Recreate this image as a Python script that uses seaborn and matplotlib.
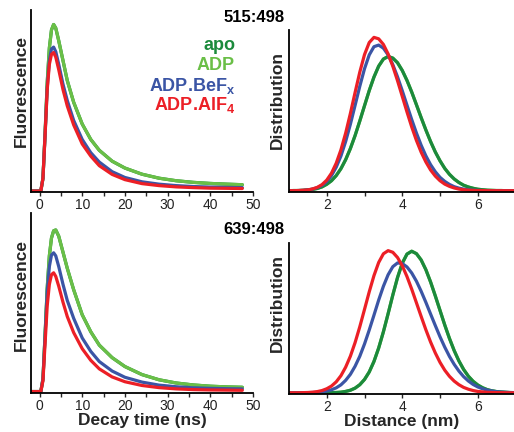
import numpy as np
import pandas as pd
import matplotlib
matplotlib.use("Agg")
import matplotlib.pyplot as plt
import seaborn as sns

# decay time axis (ns) and fluorescence readings
decay_t = [-2, 0.3, 0.8, 1.3, 1.8, 2.3, 2.8, 3.3, 3.8, 4.5, 5.5, 6.5, 8, 10,
           12, 14, 17, 20, 24, 28, 32, 36, 40, 44, 47.5]

adp_decay_515 = [0, 0, 0.07, 0.32, 0.60, 0.79, 0.89, 0.92, 0.90, 0.83, 0.72, 0.61, 0.49,
                 0.37, 0.285, 0.225, 0.165, 0.127, 0.093, 0.071, 0.057, 0.048, 0.042, 0.038, 0.035]
apo_decay_515 = adp_decay_515
bef_decay_515 = [0, 0, 0.07, 0.31, 0.57, 0.72, 0.785, 0.795, 0.77, 0.70, 0.59, 0.50, 0.39,
                 0.285, 0.212, 0.16, 0.107, 0.075, 0.051, 0.038, 0.030, 0.025, 0.022, 0.020, 0.019]
alf_decay_515 = [0, 0, 0.07, 0.31, 0.56, 0.70, 0.755, 0.765, 0.74, 0.67, 0.56, 0.47, 0.365,
                 0.26, 0.193, 0.14, 0.092, 0.063, 0.041, 0.030, 0.023, 0.019, 0.016, 0.015, 0.014]

adp_decay_639 = [0, 0, 0.07, 0.32, 0.58, 0.76, 0.86, 0.90, 0.905, 0.87, 0.78, 0.69, 0.57,
                 0.43, 0.335, 0.26, 0.19, 0.14, 0.095, 0.066, 0.048, 0.037, 0.030, 0.026, 0.024]
apo_decay_639 = adp_decay_639
bef_decay_639 = [0, 0, 0.07, 0.31, 0.56, 0.70, 0.765, 0.777, 0.76, 0.70, 0.60, 0.51, 0.41,
                 0.30, 0.225, 0.168, 0.115, 0.08, 0.053, 0.036, 0.027, 0.021, 0.018, 0.016, 0.015]
alf_decay_639 = [0, 0, 0.06, 0.27, 0.48, 0.60, 0.655, 0.665, 0.645, 0.59, 0.50, 0.42, 0.33,
                 0.24, 0.175, 0.127, 0.082, 0.055, 0.034, 0.022, 0.015, 0.011, 0.009, 0.008, 0.007]

# distance axis (nm) and distribution readings
dist_r = [1.0, 1.125, 1.25, 1.375, 1.5, 1.625, 1.75, 1.875, 2.0, 2.125, 2.25, 2.375,
          2.5, 2.625, 2.75, 2.875, 3.0, 3.125, 3.25, 3.375, 3.5, 3.625, 3.75, 3.875,
          4.0, 4.125, 4.25, 4.375, 4.5, 4.625, 4.75, 4.875, 5.0, 5.125, 5.25, 5.375,
          5.5, 5.625, 5.75, 5.875, 6.0, 6.125, 6.25, 6.375, 6.5, 6.625, 6.75, 6.875, 7.0]

apo_dist_515 = [0.000, 0.001, 0.001, 0.002, 0.005, 0.008, 0.014, 0.024, 0.040, 0.062, 0.094, 0.137,
                0.193, 0.262, 0.343, 0.434, 0.529, 0.623, 0.707, 0.775, 0.819, 0.835, 0.825, 0.796,
                0.748, 0.686, 0.614, 0.535, 0.455, 0.378, 0.306, 0.241, 0.186, 0.139, 0.102, 0.073,
                0.051, 0.034, 0.023, 0.015, 0.009, 0.006, 0.003, 0.002, 0.001, 0.001, 0.0, 0.0, 0.0]
adp_dist_515 = apo_dist_515
bef_dist_515 = [0.000, 0.000, 0.001, 0.002, 0.005, 0.010, 0.019, 0.033, 0.057, 0.094, 0.146, 0.216,
                0.306, 0.413, 0.531, 0.650, 0.759, 0.845, 0.896, 0.906, 0.887, 0.845, 0.784, 0.708,
                0.622, 0.532, 0.443, 0.359, 0.283, 0.217, 0.162, 0.118, 0.083, 0.058, 0.039, 0.025,
                0.016, 0.010, 0.006, 0.003, 0.002, 0.001, 0.001, 0.0, 0.0, 0.0, 0.0, 0.0, 0.0]
alf_dist_515 = [0.000, 0.000, 0.001, 0.003, 0.005, 0.011, 0.021, 0.038, 0.066, 0.109, 0.171, 0.254,
                0.358, 0.480, 0.611, 0.738, 0.847, 0.922, 0.954, 0.945, 0.910, 0.851, 0.774, 0.684,
                0.587, 0.490, 0.397, 0.313, 0.240, 0.179, 0.129, 0.091, 0.062, 0.041, 0.027, 0.017,
                0.010, 0.006, 0.003, 0.002, 0.001, 0.001, 0.0, 0.0, 0.0, 0.0, 0.0, 0.0, 0.0]

apo_dist_639 = [0.0, 0.0, 0.0, 0.0, 0.0, 0.0, 0.0, 0.0, 0.0, 0.001, 0.002, 0.004,
                0.009, 0.017, 0.031, 0.054, 0.089, 0.139, 0.209, 0.299, 0.407, 0.528, 0.653, 0.770,
                0.865, 0.926, 0.945, 0.929, 0.887, 0.822, 0.740, 0.647, 0.550, 0.453, 0.363, 0.282,
                0.213, 0.156, 0.111, 0.077, 0.052, 0.034, 0.021, 0.013, 0.008, 0.005, 0.003, 0.001, 0.001]
adp_dist_639 = apo_dist_639
bef_dist_639 = [0.000, 0.000, 0.000, 0.000, 0.001, 0.002, 0.003, 0.006, 0.012, 0.020, 0.033, 0.053,
                0.083, 0.123, 0.177, 0.244, 0.326, 0.419, 0.518, 0.619, 0.711, 0.788, 0.842, 0.867,
                0.863, 0.840, 0.800, 0.745, 0.678, 0.604, 0.526, 0.449, 0.374, 0.305, 0.243, 0.190,
                0.145, 0.108, 0.079, 0.056, 0.039, 0.027, 0.018, 0.012, 0.007, 0.005, 0.003, 0.002, 0.001]
alf_dist_639 = [0.000, 0.000, 0.000, 0.001, 0.002, 0.004, 0.008, 0.015, 0.027, 0.045, 0.073, 0.114,
                0.171, 0.244, 0.335, 0.441, 0.557, 0.674, 0.782, 0.870, 0.928, 0.949, 0.938, 0.903,
                0.848, 0.776, 0.692, 0.601, 0.510, 0.421, 0.339, 0.266, 0.203, 0.151, 0.110, 0.078,
                0.054, 0.036, 0.024, 0.015, 0.009, 0.006, 0.003, 0.002, 0.001, 0.001, 0.0, 0.0, 0.0]

pair_labels = ["515:498", "639:498"]
state_labels = ["apo", "ADP", r"ADP.BeF$_\mathbf{x}$", r"ADP.AlF$_\mathbf{4}$"]

c_apo = "#1b8a3c"
c_adp = "#6abf47"
c_bef = "#3b55a5"
c_alf = "#ec1f26"
text_colors = [c_apo, c_adp, c_bef, c_alf]

sns.set_style("ticks")
plt.rcParams['font.family'] = ['Liberation Sans', 'DejaVu Sans']
plt.rcParams['mathtext.fontset'] = 'custom'
plt.rcParams['mathtext.rm'] = 'Liberation Sans'
plt.rcParams['mathtext.bf'] = 'Liberation Sans:bold'
plt.rcParams['mathtext.default'] = 'bf'

fig = plt.figure(figsize=(5.14, 4.32), dpi=100)
ax_tl = fig.add_axes([0.0603, 0.5544, 0.4319, 0.4225])
ax_tr = fig.add_axes([0.5623, 0.5556, 0.4377, 0.3750])
ax_bl = fig.add_axes([0.0603, 0.0903, 0.4319, 0.4167])
ax_br = fig.add_axes([0.5623, 0.0880, 0.4377, 0.3495])

lw = 2.3


def style_axes(ax):
    for side in ["top", "right"]:
        ax.spines[side].set_visible(False)
    for side in ["left", "bottom"]:
        ax.spines[side].set_linewidth(1.3)
        ax.spines[side].set_color("black")
    ax.set_yticks([])
    ax.tick_params(axis="x", which="both", direction="out", length=3, width=1,
                   labelsize=10, labelcolor="#222222", pad=1)
    ax.set_ylabel("")
    ax.set_xlabel("")


def decay_panel(ax, apo, adp, bef, alf, label_y):
    sns.lineplot(x=decay_t, y=apo, color=c_apo, lw=lw, ax=ax)
    sns.lineplot(x=decay_t, y=adp, color=c_adp, lw=lw, ax=ax)
    sns.lineplot(x=decay_t, y=bef, color=c_bef, lw=lw, ax=ax)
    sns.lineplot(x=decay_t, y=alf, color=c_alf, lw=lw, ax=ax)
    ax.set_xlim(-2, 50)
    ax.set_ylim(-0.008, 1.0)
    ax.set_xticks([0, 10, 20, 30, 40, 50])
    ax.set_xticks([5, 15, 25, 35, 45], minor=True)
    style_axes(ax)
    ax.set_ylabel("Fluorescence", fontsize=12.5, fontweight="bold")
    ax.yaxis.set_label_coords(-0.011, label_y)


def dist_panel(ax, apo, adp, bef, alf, label_y):
    sns.lineplot(x=dist_r, y=adp, color=c_adp, lw=lw, ax=ax)
    sns.lineplot(x=dist_r, y=apo, color=c_apo, lw=lw, ax=ax)
    sns.lineplot(x=dist_r, y=bef, color=c_bef, lw=lw, ax=ax)
    sns.lineplot(x=dist_r, y=alf, color=c_alf, lw=lw, ax=ax)
    ax.set_xlim(1.0, 6.96)
    ax.set_ylim(-0.008, 1.0)
    ax.set_xticks([2, 4, 6])
    ax.set_xticks([3, 5], minor=True)
    style_axes(ax)
    ax.set_ylabel("Distribution", fontsize=12.5, fontweight="bold")
    ax.yaxis.set_label_coords(-0.02, label_y)


decay_panel(ax_tl, apo_decay_515, adp_decay_515, bef_decay_515, alf_decay_515, 0.556)
decay_panel(ax_bl, apo_decay_639, adp_decay_639, bef_decay_639, alf_decay_639, 0.544)
dist_panel(ax_tr, apo_dist_515, adp_dist_515, bef_dist_515, alf_dist_515, 0.568)
dist_panel(ax_br, apo_dist_639, adp_dist_639, bef_dist_639, alf_dist_639, 0.60)

ax_bl.set_xlabel("Decay time (ns)", fontsize=12.5, fontweight="bold", labelpad=0)
ax_br.set_xlabel("Distance (nm)", fontsize=12.5, fontweight="bold", labelpad=0)

# pair titles
fig.text(254 / 514, 1 - 17 / 432, pair_labels[0], ha="center", va="center",
         fontsize=12, fontweight="bold", color="black")
fig.text(254 / 514, 1 - 229 / 432, pair_labels[1], ha="center", va="center",
         fontsize=12, fontweight="bold", color="black")

# legend as coloured text
legend_y = [46, 66, 86, 105]
for lab, col, yy in zip(state_labels, text_colors, legend_y):
    fig.text(235 / 514, 1 - yy / 432, lab, ha="right", va="center",
             fontsize=13, fontweight="bold", color=col)

fig.savefig("out.png", dpi=100)
